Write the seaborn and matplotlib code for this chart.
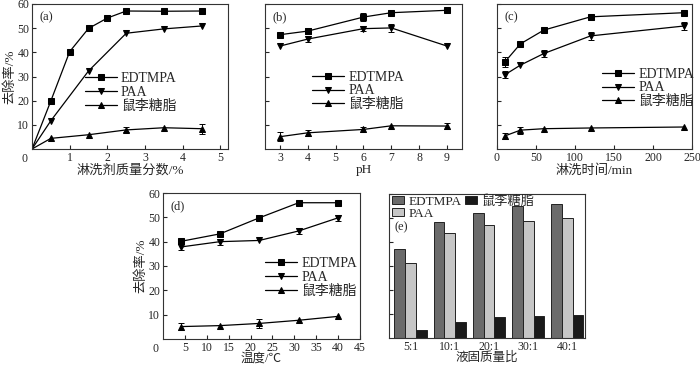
import numpy as np
import pandas as pd
import matplotlib
matplotlib.use("Agg")
import matplotlib.pyplot as plt
import seaborn as sns

# ---- data ----
agents = ["EDTMPA", "PAA", "鼠李糖脂"]

# (a) washing agent mass fraction / %
conc = [0, 0.5, 1, 1.5, 2, 2.5, 3.5, 4.5]
conc_edtmpa = [0, 19.9, 40.3, 49.9, 54.2, 57.1, 57.0, 57.1]
conc_paa_x = [0, 0.5, 1.5, 2.5, 3.5, 4.5]
conc_paa = [0, 11.7, 32.3, 47.9, 49.7, 50.9]
conc_rl_x = [0, 0.5, 1.5, 2.5, 3.5, 4.5]
conc_rl = [0, 4.4, 5.9, 7.9, 8.8, 8.4]
conc_edtmpa_err = [0, 0, 0, 0, 0, 0, 1.0, 0]
conc_paa_err = [0, 0, 0, 0, 0, 0]
conc_rl_err = [0, 0, 0, 1.0, 0, 2.0]

# (b) pH
ph = [3, 4, 6, 7, 9]
ph_edtmpa = [47.3, 48.8, 54.6, 56.4, 57.4]
ph_paa = [42.6, 45.5, 49.8, 50.1, 42.6]
ph_rl = [5.1, 6.7, 8.1, 9.6, 9.5]
ph_edtmpa_err = [0, 1.2, 1.5, 0, 0]
ph_paa_err = [0, 1.2, 1.0, 1.8, 0]
ph_rl_err = [1.8, 1.3, 1.2, 0, 1.2]

# (c) washing time / min
tm = [10, 30, 60, 120, 240]
tm_edtmpa = [36.0, 43.5, 49.2, 54.7, 56.4]
tm_paa = [30.7, 34.7, 39.5, 46.8, 50.9]
tm_rl = [5.4, 7.8, 8.4, 8.7, 9.1]
tm_edtmpa_err = [2.0, 0, 0, 0, 0]
tm_paa_err = [1.5, 0, 1.5, 1.5, 1.5]
tm_rl_err = [1.2, 1.5, 0, 0, 0]

# (d) temperature / C
temp = [4, 13, 22, 31, 40]
temp_edtmpa = [40.1, 43.2, 49.8, 56.0, 56.0]
temp_paa = [37.8, 40.0, 40.5, 44.4, 49.8]
temp_rl = [5.1, 5.5, 6.4, 7.7, 9.3]
temp_edtmpa_err = [0, 0, 0, 0, 0]
temp_paa_err = [1.2, 1.2, 0, 1.2, 1.2]
temp_rl_err = [1.5, 0, 1.8, 0, 0]

# (e) liquid/solid ratio
ratios = ["5:1", "10:1", "20:1", "30:1", "40:1"]
ratio_edtmpa = [37.0, 48.3, 52.2, 54.9, 56.0]
ratio_paa = [31.2, 43.7, 46.9, 48.8, 49.9]
ratio_rl = [3.2, 6.5, 8.8, 9.2, 9.6]
bar_colors = ["#6b6b6b", "#c6c6c6", "#1a1a1a"]

# ---- style ----
sns.set_style("ticks")
plt.rcParams["font.family"] = ["Liberation Serif", "Noto Sans CJK SC"]
plt.rcParams["xtick.direction"] = "in"
plt.rcParams["ytick.direction"] = "in"
plt.rcParams["xtick.major.size"] = 3
plt.rcParams["ytick.major.size"] = 3
plt.rcParams["xtick.major.pad"] = 2
plt.rcParams["ytick.major.pad"] = 2
plt.rcParams["axes.linewidth"] = 0.8
plt.rcParams["axes.edgecolor"] = "#333333"

W, H = 700, 366
fig = plt.figure(figsize=(W / 100, H / 100), dpi=100)


def make_ax(left, top, right, bottom):
    return fig.add_axes([left / W, 1 - bottom / H, (right - left) / W, (bottom - top) / H])


def draw_lines(ax, series, legend_anchor):
    for (x, y, err, label, mk, mev) in series:
        sns.lineplot(x=x, y=y, ax=ax, color="black", lw=0.9, marker=mk,
                     markersize=4.2 if mk == "s" else 5, markeredgecolor="black",
                     markevery=mev, label=label, errorbar=None)
        e = np.array(err, dtype=float)
        msk = e > 0
        if msk.any():
            ax.errorbar(np.array(x)[msk], np.array(y)[msk], yerr=e[msk], fmt="none",
                        ecolor="black", elinewidth=0.7, capsize=2, capthick=0.7)
    ax.legend(loc="upper left", bbox_to_anchor=legend_anchor, frameon=False,
              fontsize=10, handlelength=2.3, handletextpad=0.3, labelspacing=0.05,
              borderpad=0, borderaxespad=0)
    ax.tick_params(labelsize=8.5)


def corner_zero(ax):
    ax.annotate("0", xy=(0, 0), xycoords="axes fraction", xytext=(-3, -3),
                textcoords="offset points", ha="right", va="top", fontsize=8.5)


# (a)
ax_a = make_ax(32, 4, 228, 149)
draw_lines(ax_a, [
    (conc, conc_edtmpa, conc_edtmpa_err, agents[0], "s", slice(1, None)),
    (conc_paa_x, conc_paa, conc_paa_err, agents[1], "v", slice(1, None)),
    (conc_rl_x, conc_rl, conc_rl_err, agents[2], "^", slice(1, None)),
], (0.27, 0.53))
ax_a.set_xlim(0, 5.2)
ax_a.set_ylim(0, 60)
ax_a.set_xticks([1, 2, 3, 4, 5])
ax_a.set_yticks([10, 20, 30, 40, 50, 60])
corner_zero(ax_a)
ax_a.set_xlabel("淋洗剂质量分数/%", fontsize=9.5, labelpad=0)
ax_a.set_ylabel("去除率/%", fontsize=9.5, labelpad=1)
ax_a.text(0.04, 0.95, "(a)", transform=ax_a.transAxes, fontsize=9, va="top")

# (b)
ax_b = make_ax(265, 4, 462, 149)
draw_lines(ax_b, [
    (ph, ph_edtmpa, ph_edtmpa_err, agents[0], "s", None),
    (ph, ph_paa, ph_paa_err, agents[1], "v", None),
    (ph, ph_rl, ph_rl_err, agents[2], "^", None),
], (0.24, 0.54))
ax_b.set_xlim(2.46, 9.54)
ax_b.set_ylim(0, 60)
ax_b.set_xticks([3, 4, 5, 6, 7, 8, 9])
ax_b.set_yticks([10, 20, 30, 40, 50, 60])
ax_b.set_yticklabels([])
ax_b.set_xlabel("pH", fontsize=9.5, labelpad=0)
ax_b.set_ylabel("")
ax_b.text(0.04, 0.95, "(b)", transform=ax_b.transAxes, fontsize=9, va="top")

# (c)
ax_c = make_ax(497, 4, 692, 149)
draw_lines(ax_c, [
    (tm, tm_edtmpa, tm_edtmpa_err, agents[0], "s", None),
    (tm, tm_paa, tm_paa_err, agents[1], "v", None),
    (tm, tm_rl, tm_rl_err, agents[2], "^", None),
], (0.54, 0.56))
ax_c.set_xlim(0, 250)
ax_c.set_ylim(0, 60)
ax_c.set_xticks([0, 50, 100, 150, 200, 250])
ax_c.set_yticks([10, 20, 30, 40, 50, 60])
ax_c.set_yticklabels([])
ax_c.set_xlabel("淋洗时间/min", fontsize=9.5, labelpad=0)
ax_c.set_ylabel("")
ax_c.text(0.04, 0.95, "(c)", transform=ax_c.transAxes, fontsize=9, va="top")

# (d)
ax_d = make_ax(163, 193, 360, 339)
draw_lines(ax_d, [
    (temp, temp_edtmpa, temp_edtmpa_err, agents[0], "s", None),
    (temp, temp_paa, temp_paa_err, agents[1], "v", None),
    (temp, temp_rl, temp_rl_err, agents[2], "^", None),
], (0.52, 0.56))
ax_d.set_xlim(0, 45)
ax_d.set_ylim(0, 60)
ax_d.set_xticks([5, 10, 15, 20, 25, 30, 35, 40, 45])
ax_d.set_yticks([10, 20, 30, 40, 50, 60])
corner_zero(ax_d)
ax_d.set_xlabel("温度/℃", fontsize=9, labelpad=-1)
ax_d.set_ylabel("去除率/%", fontsize=9.5, labelpad=1)
ax_d.text(0.04, 0.95, "(d)", transform=ax_d.transAxes, fontsize=9, va="top")

# (e)
ax_e = make_ax(389, 194, 585, 338)
df_e = pd.DataFrame({
    "ratio": ratios * 3,
    "agent": [agents[0]] * 5 + [agents[1]] * 5 + [agents[2]] * 5,
    "value": ratio_edtmpa + ratio_paa + ratio_rl,
})
sns.barplot(data=df_e, x="ratio", y="value", hue="agent", palette=bar_colors,
            width=0.82, edgecolor="#222222", linewidth=0.7, saturation=1, ax=ax_e)
ax_e.set_xlim(-0.55, 4.45)
ax_e.set_ylim(0, 60)
ax_e.set_yticks([10, 20, 30, 40, 50, 60])
ax_e.set_yticklabels([])
ax_e.tick_params(axis="x", length=0, labelsize=8.5)
ax_e.set_xlabel("液固质量比", fontsize=9, labelpad=-1)
ax_e.set_ylabel("")
ax_e.legend(loc="upper left", bbox_to_anchor=(0.01, 1.0), ncol=2, frameon=False,
            fontsize=9.5, handlelength=0.9, handleheight=0.6, handletextpad=0.3,
            labelspacing=0.0, columnspacing=0.3, borderpad=0, borderaxespad=0.1)
ax_e.text(0.03, 0.81, "(e)", transform=ax_e.transAxes, fontsize=9, va="top")

for ax in [ax_a, ax_b, ax_c, ax_d, ax_e]:
    for s in ax.spines.values():
        s.set_visible(True)

fig.savefig("out.png", dpi=100)
